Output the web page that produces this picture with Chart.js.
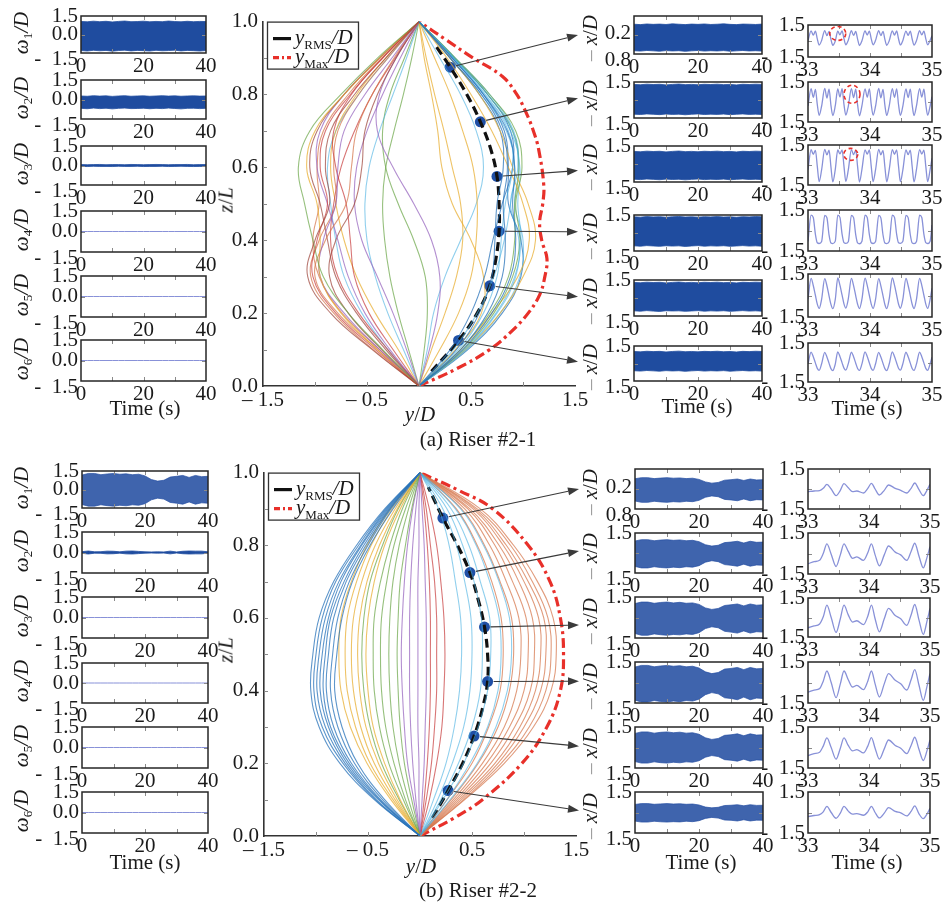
<!DOCTYPE html>
<html>
<head>
<meta charset="utf-8">
<script src="https://cdn.jsdelivr.net/npm/chart.js@4.4.1/dist/chart.umd.min.js"></script>
<style>
  html,body{margin:0;padding:0;background:#fff;}
  #fig{position:relative;width:943px;height:903px;overflow:hidden;background:#fff;}
  #fig canvas{position:absolute;}
  .t{position:absolute;font-family:"Liberation Serif","Times New Roman",serif;font-size:21px;color:#1a1a1a;white-space:nowrap;line-height:1;}
  .c{transform:translate(-50%,-50%);}
  .r{transform:translate(-50%,-50%) rotate(-90deg);}
  .t sub{font-size:13px;font-style:normal;vertical-align:-4px;}
  .g{color:#999;}
</style>
</head>
<body>
<div id="fig"></div>
<script>
// ---------------- data ----------------
// normalised height levels along the riser
const zLev = [0, 0.1, 0.2, 0.3, 0.4, 0.5, 0.6, 0.7, 0.8, 0.9, 1.0];

// Riser #2-1: instantaneous cross-flow shapes y/D along z/L
const shapesA = [
  [0,0.42,0.70,0.88,0.93,0.90,0.92,0.85,0.62,0.32,0],
  [0,-0.45,-0.85,-1.07,-1.00,-0.86,-0.90,-0.85,-0.62,-0.32,0],
  [0,0.40,0.66,0.80,0.83,0.81,0.85,0.80,0.60,0.30,0],
  [0,-0.42,-0.80,-1.02,-0.98,-0.88,-0.95,-0.90,-0.66,-0.35,0],
  [0,0.45,0.75,0.93,0.96,0.88,0.95,0.90,0.66,0.34,0],
  [0,-0.35,-0.68,-0.92,-1.02,-1.10,-1.16,-1.05,-0.75,-0.40,0],
  [0,0.38,0.62,0.75,0.79,0.83,0.90,0.86,0.63,0.33,0],
  [0,-0.40,-0.75,-0.95,-0.95,-0.98,-1.08,-1.00,-0.72,-0.38,0],
  [0,0.43,0.72,0.90,0.97,0.93,0.99,0.93,0.68,0.35,0],
  [0,-0.38,-0.72,-0.95,-0.92,-0.80,-0.78,-0.72,-0.52,-0.26,0],
  [0,0.45,0.78,1.00,1.12,1.05,0.90,0.78,0.58,0.30,0],
  [0,-0.40,-0.78,-1.00,-0.90,-0.70,-0.65,-0.60,-0.45,-0.24,0],
  [0,0.40,0.70,0.95,1.06,1.00,0.86,0.70,0.50,0.27,0],
  [0,-0.32,-0.60,-0.80,-0.88,-0.95,-1.05,-0.98,-0.72,-0.38,0],
  [0,0.36,0.58,0.70,0.73,0.75,0.81,0.78,0.58,0.30,0],
  [0,-0.28,-0.52,-0.68,-0.78,-0.88,-0.98,-0.95,-0.72,-0.38,0],
  [0,0.44,0.74,0.92,0.98,0.95,0.97,0.88,0.64,0.33,0],
  [0,-0.25,-0.48,-0.62,-0.66,-0.70,-0.80,-0.82,-0.65,-0.35,0],
  [0,0.40,0.68,0.86,0.92,0.92,0.96,0.90,0.66,0.34,0],
  [0,-0.36,-0.68,-0.86,-0.80,-0.62,-0.55,-0.52,-0.40,-0.22,0],
  [0,0.30,0.50,0.63,0.71,0.80,0.90,0.88,0.66,0.34,0],
  [0,-0.44,-0.82,-1.04,-0.96,-0.80,-0.82,-0.78,-0.58,-0.30,0],
  [0,0.33,0.56,0.72,0.82,0.88,0.92,0.84,0.60,0.30,0],
  [0,-0.12,-0.25,-0.40,-0.55,-0.62,-0.60,-0.50,-0.35,-0.18,0],
  [0,0.46,0.78,0.97,1.00,0.92,0.96,0.91,0.68,0.35,0],
  [0,0.10,0.18,0.20,0.12,-0.05,-0.25,-0.40,-0.38,-0.22,0],
  [0,0.47,0.80,0.98,0.98,0.86,0.86,0.82,0.62,0.32,0],
  [0,-0.30,-0.58,-0.78,-0.85,-0.82,-0.75,-0.62,-0.45,-0.23,0],
  [0,0.20,0.38,0.50,0.55,0.56,0.52,0.42,0.30,0.15,0],
  [0,-0.20,-0.42,-0.60,-0.72,-0.80,-0.85,-0.80,-0.60,-0.32,0],
  [0,0.35,0.60,0.62,0.50,0.32,0.22,0.18,0.12,0.05,0],
  [0,-0.38,-0.74,-0.96,-1.02,-0.96,-0.98,-0.92,-0.68,-0.36,0],
  [0,0.12,0.25,0.36,0.42,0.40,0.32,0.24,0.15,0.07,0],
  [0,-0.30,-0.55,-0.72,-0.80,-0.85,-0.88,-0.80,-0.58,-0.30,0],
  [0,0.08,0.14,0.25,0.40,0.55,0.62,0.55,0.40,0.20,0],
  [0,-0.15,-0.30,-0.42,-0.50,-0.52,-0.48,-0.38,-0.25,-0.12,0],
  [0,-0.10,-0.20,-0.28,-0.33,-0.35,-0.32,-0.24,-0.15,-0.07,0],
  [0,0.05,0.08,0.06,-0.05,-0.20,-0.32,-0.35,-0.28,-0.14,0]
];
const shapeKindA = ['blue','brown','blue','red','sky','green','sky','gold','green','purple',
  'gold','salmon','gold','brown','blue','purple','sky','red','green','brown',
  'blue','salmon','sky','purple','sky','purple','blue','red','gold','gold',
  'gold','salmon','gold','sky','sky','sky','green','green'];

// Riser #2-1: RMS and maximum envelopes, monitoring points
const rmsZA = [0.04,0.125,0.2,0.275,0.35,0.425,0.5,0.575,0.65,0.725,0.8,0.875,0.93];
const rmsYA = [0.12,0.38,0.56,0.68,0.74,0.77,0.77,0.75,0.69,0.59,0.46,0.30,0.17];
const maxZA = [0,0.05,0.1,0.15,0.2,0.25,0.3,0.35,0.4,0.45,0.5,0.55,0.65,0.7,0.75,0.8,0.85,0.9,0.95,1];
const maxYA = [0,0.38,0.68,0.89,1.05,1.16,1.21,1.23,1.18,1.16,1.19,1.20,1.15,1.10,1.03,0.94,0.80,0.52,0.26,0];
const dotZ = [0.875,0.725,0.575,0.425,0.275,0.125];
const dotYA = [0.30,0.59,0.75,0.77,0.68,0.38];

// Riser #2-2: instantaneous shapes
const shapesB = [
  [0,-0.44,-0.77,-0.97,-1.05,-1.03,-0.97,-0.83,-0.61,-0.34,0],
  [0,-0.43,-0.74,-0.94,-1.02,-1.00,-0.94,-0.81,-0.59,-0.33,0],
  [0,-0.42,-0.72,-0.91,-0.99,-0.97,-0.91,-0.78,-0.57,-0.32,0],
  [0,-0.40,-0.70,-0.88,-0.96,-0.94,-0.88,-0.76,-0.56,-0.31,0],
  [0,-0.39,-0.68,-0.86,-0.93,-0.91,-0.86,-0.73,-0.54,-0.30,0],
  [0,-0.38,-0.66,-0.83,-0.90,-0.88,-0.83,-0.71,-0.52,-0.29,0],
  [0,-0.36,-0.63,-0.79,-0.86,-0.84,-0.79,-0.68,-0.50,-0.28,0],
  [0,-0.34,-0.60,-0.75,-0.82,-0.80,-0.75,-0.65,-0.48,-0.26,0],
  [0,-0.28,-0.51,-0.67,-0.76,-0.78,-0.76,-0.66,-0.51,-0.29,0],
  [0,-0.26,-0.48,-0.62,-0.70,-0.72,-0.70,-0.61,-0.47,-0.27,0],
  [0,-0.24,-0.44,-0.57,-0.64,-0.66,-0.64,-0.56,-0.43,-0.24,0],
  [0,-0.22,-0.40,-0.52,-0.58,-0.60,-0.58,-0.51,-0.39,-0.22,0],
  [0,-0.19,-0.34,-0.45,-0.50,-0.52,-0.50,-0.44,-0.34,-0.19,0],
  [0,-0.20,-0.37,-0.48,-0.54,-0.56,-0.54,-0.48,-0.36,-0.21,0],
  [0,-0.16,-0.30,-0.39,-0.44,-0.45,-0.44,-0.38,-0.29,-0.17,0],
  [0,-0.14,-0.25,-0.33,-0.37,-0.38,-0.37,-0.32,-0.25,-0.14,0],
  [0,-0.11,-0.20,-0.26,-0.29,-0.30,-0.29,-0.26,-0.20,-0.11,0],
  [0,-0.08,-0.15,-0.19,-0.21,-0.22,-0.21,-0.19,-0.14,-0.08,0],
  [0,-0.06,-0.12,-0.15,-0.17,-0.18,-0.17,-0.15,-0.12,-0.07,0],
  [0,-0.04,-0.07,-0.09,-0.10,-0.10,-0.10,-0.09,-0.07,-0.04,0],
  [0,-0.01,-0.01,-0.02,-0.02,-0.02,-0.02,-0.02,-0.01,-0.01,0],
  [0,0.02,0.04,0.05,0.06,0.06,0.06,0.05,0.04,0.02,0],
  [0,0.04,0.07,0.09,0.10,0.10,0.10,0.09,0.07,0.04,0],
  [0,0.06,0.11,0.14,0.16,0.16,0.16,0.14,0.10,0.06,0],
  [0,0.09,0.16,0.21,0.23,0.24,0.23,0.20,0.16,0.09,0],
  [0,0.13,0.25,0.33,0.38,0.40,0.39,0.34,0.28,0.18,0],
  [0,0.17,0.31,0.42,0.48,0.50,0.49,0.43,0.35,0.22,0],
  [0,0.20,0.37,0.50,0.58,0.60,0.59,0.52,0.41,0.26,0],
  [0,0.22,0.42,0.56,0.65,0.68,0.67,0.58,0.47,0.30,0],
  [0,0.26,0.48,0.65,0.75,0.78,0.76,0.67,0.54,0.34,0],
  [0,0.29,0.55,0.73,0.84,0.88,0.86,0.76,0.61,0.39,0],
  [0,0.26,0.50,0.66,0.77,0.80,0.78,0.69,0.55,0.35,0],
  [0,0.30,0.56,0.75,0.86,0.90,0.88,0.77,0.62,0.40,0],
  [0,0.32,0.60,0.81,0.93,0.97,0.95,0.83,0.67,0.43,0],
  [0,0.34,0.64,0.86,1.00,1.04,1.02,0.89,0.72,0.46,0],
  [0,0.36,0.68,0.91,1.06,1.10,1.08,0.95,0.76,0.48,0],
  [0,0.38,0.72,0.96,1.11,1.16,1.14,1.00,0.80,0.51,0],
  [0,0.40,0.75,1.00,1.16,1.21,1.19,1.04,0.83,0.53,0],
  [0,0.42,0.78,1.05,1.21,1.26,1.23,1.08,0.87,0.55,0],
  [0,0.43,0.81,1.09,1.26,1.31,1.28,1.13,0.90,0.58,0]
];
const shapeKindB = ['blue','blue','blue','blue','blue','blue','blue','blue',
  'gold','gold','gold','gold','gold','green','green','green','green','green',
  'purple','purple','purple','purple','red','red','red',
  'sky','sky','sky','sky','sky','sky',
  'salmon','salmon','salmon','salmon','salmon','salmon','salmon','salmon','salmon'];

const rmsZB = [0.05,0.125,0.2,0.275,0.35,0.425,0.5,0.575,0.65,0.725,0.8,0.875,0.96];
const rmsYB = [0.12,0.27,0.41,0.52,0.60,0.65,0.65,0.62,0.56,0.48,0.36,0.22,0.08];
const maxZB = [0,0.05,0.1,0.2,0.3,0.4,0.5,0.6,0.7,0.8,0.9,0.95,1];
const maxYB = [0,0.33,0.60,0.98,1.22,1.35,1.38,1.35,1.25,1.04,0.70,0.38,0];
const dotYB = [0.22,0.48,0.62,0.65,0.52,0.27];

// 0-40 s records: band envelopes (upper / lower) every 2 s
const tRec = [0,2,4,6,8,10,12,14,16,18,20,22,24,26,28,30,32,34,36,38,40];
const flat = [0,0,0,0,0,0,0,0,0,0,0,0,0,0,0,0,0,0,0,0,0];

const wA1up = [1.06,1.03,1.08,1.04,1.07,1.02,1.06,1.09,1.04,1.05,1.08,1.03,1.06,1.04,1.09,1.05,1.03,1.07,1.04,1.06,1.05];
const wA1lo = [-1.30,-1.34,-1.28,-1.32,-1.29,-1.35,-1.30,-1.27,-1.33,-1.29,-1.31,-1.34,-1.28,-1.32,-1.30,-1.27,-1.33,-1.29,-1.31,-1.34,-1.30];
const wA2up = [0.27,0.25,0.29,0.26,0.28,0.24,0.27,0.29,0.25,0.27,0.28,0.25,0.27,0.29,0.26,0.28,0.25,0.27,0.28,0.26,0.27];
const wA2lo = [-0.68,-0.71,-0.66,-0.70,-0.67,-0.72,-0.68,-0.66,-0.70,-0.69,-0.67,-0.71,-0.68,-0.70,-0.66,-0.69,-0.72,-0.68,-0.67,-0.70,-0.68];
const wA3up = [0.07,0.06,0.07,0.08,0.06,0.07,0.07,0.06,0.08,0.07,0.06,0.07,0.08,0.07,0.06,0.07,0.07,0.08,0.06,0.07,0.07];
const wA3lo = [-0.07,-0.08,-0.06,-0.07,-0.07,-0.08,-0.06,-0.07,-0.07,-0.06,-0.08,-0.07,-0.07,-0.06,-0.08,-0.07,-0.06,-0.07,-0.08,-0.07,-0.07];

const xA1up = [0.85,0.82,0.87,0.84,0.86,0.83,0.88,0.85,0.82,0.86,0.84,0.87,0.83,0.85,0.88,0.84,0.82,0.86,0.85,0.83,0.86];
const xA1lo = [-1.24,-1.27,-1.22,-1.25,-1.28,-1.23,-1.26,-1.24,-1.29,-1.25,-1.22,-1.27,-1.24,-1.26,-1.23,-1.28,-1.25,-1.22,-1.26,-1.24,-1.27];
const xA2up = [1.30,1.27,1.32,1.29,1.31,1.26,1.30,1.33,1.28,1.30,1.27,1.31,1.29,1.32,1.28,1.30,1.26,1.31,1.29,1.32,1.30];
const xA2lo = [-1.18,-1.21,-1.16,-1.19,-1.22,-1.17,-1.20,-1.18,-1.23,-1.19,-1.16,-1.21,-1.18,-1.20,-1.17,-1.22,-1.19,-1.16,-1.20,-1.18,-1.21];
const xA3up = [1.05,1.02,1.07,1.04,1.06,1.01,1.05,1.08,1.03,1.05,1.02,1.06,1.04,1.07,1.03,1.05,1.01,1.06,1.04,1.07,1.05];
const xA3lo = [-1.27,-1.30,-1.25,-1.28,-1.31,-1.26,-1.29,-1.27,-1.32,-1.28,-1.25,-1.30,-1.27,-1.29,-1.26,-1.31,-1.28,-1.25,-1.29,-1.27,-1.30];
const xA4up = [1.35,1.32,1.37,1.34,1.36,1.31,1.35,1.38,1.33,1.35,1.32,1.36,1.34,1.37,1.33,1.35,1.31,1.36,1.34,1.37,1.35];
const xA4lo = [-1.07,-1.10,-1.05,-1.08,-1.11,-1.06,-1.09,-1.07,-1.12,-1.08,-1.05,-1.10,-1.07,-1.09,-1.06,-1.11,-1.08,-1.05,-1.09,-1.07,-1.10];
const xA5up = [1.30,1.27,1.32,1.29,1.31,1.26,1.30,1.33,1.28,1.30,1.27,1.31,1.29,1.32,1.28,1.30,1.26,1.31,1.29,1.32,1.30];
const xA5lo = [-1.07,-1.10,-1.05,-1.09,-1.12,-1.06,-1.08,-1.07,-1.11,-1.08,-1.05,-1.10,-1.07,-1.09,-1.06,-1.11,-1.08,-1.05,-1.09,-1.07,-1.10];
const xA6up = [1.03,1.00,1.05,1.02,1.04,0.99,1.03,1.06,1.01,1.03,1.00,1.04,1.02,1.05,1.01,1.03,0.99,1.04,1.02,1.05,1.03];
const xA6lo = [-0.62,-0.65,-0.60,-0.63,-0.66,-0.61,-0.64,-0.62,-0.67,-0.63,-0.60,-0.65,-0.62,-0.64,-0.61,-0.66,-0.63,-0.60,-0.64,-0.62,-0.65];

const wB1up = [1.17,1.30,1.30,1.20,1.26,1.30,1.24,1.27,1.20,1.24,1.10,0.81,0.68,0.75,1.01,1.07,1.14,0.98,1.14,1.04,1.07];
const wB1lo = [-1.22,-1.35,-1.35,-1.24,-1.31,-1.35,-1.28,-1.32,-1.24,-1.28,-1.15,-0.84,-0.70,-0.78,-1.05,-1.11,-1.19,-1.01,-1.19,-1.08,-1.11];
const wB2up = [0.06,0.11,0.05,0.06,0.10,0.09,0.05,0.10,0.11,0.08,0.05,0.04,0.05,0.04,0.10,0.04,0.09,0.11,0.10,0.10,0.05];
const wB2lo = [-0.06,-0.11,-0.05,-0.06,-0.10,-0.09,-0.05,-0.10,-0.11,-0.08,-0.05,-0.04,-0.05,-0.04,-0.10,-0.04,-0.09,-0.11,-0.10,-0.10,-0.05];

const xB1up = [0.77,0.85,0.85,0.78,0.82,0.85,0.81,0.83,0.78,0.81,0.72,0.53,0.44,0.49,0.66,0.70,0.75,0.64,0.75,0.68,0.70];
const xB1lo = [-0.90,-1.00,-1.00,-0.92,-0.97,-1.00,-0.95,-0.98,-0.92,-0.95,-0.85,-0.62,-0.52,-0.58,-0.78,-0.82,-0.88,-0.75,-0.88,-0.80,-0.82];
const xB2up = [0.90,1.00,1.00,0.92,0.97,1.00,0.95,0.98,0.92,0.95,0.85,0.62,0.52,0.58,0.78,0.82,0.88,0.75,0.88,0.80,0.82];
const xB2lo = [-1.01,-1.12,-1.12,-1.03,-1.09,-1.12,-1.06,-1.10,-1.03,-1.06,-0.95,-0.69,-0.58,-0.65,-0.87,-0.92,-0.99,-0.84,-0.99,-0.90,-0.92];
const xB3up = [1.02,1.13,1.13,1.04,1.10,1.13,1.07,1.11,1.04,1.07,0.96,0.70,0.59,0.66,0.88,0.93,0.99,0.85,0.99,0.90,0.93];
const xB3lo = [-1.17,-1.30,-1.30,-1.20,-1.26,-1.30,-1.24,-1.27,-1.20,-1.24,-1.11,-0.81,-0.68,-0.75,-1.01,-1.07,-1.14,-0.98,-1.14,-1.04,-1.07];
const xB4up = [1.13,1.25,1.25,1.15,1.21,1.25,1.19,1.23,1.15,1.19,1.06,0.78,0.65,0.73,0.98,1.03,1.10,0.94,1.10,1.00,1.03];
const xB4lo = [-1.29,-1.43,-1.43,-1.32,-1.39,-1.43,-1.36,-1.40,-1.32,-1.36,-1.22,-0.89,-0.74,-0.83,-1.12,-1.17,-1.26,-1.07,-1.26,-1.14,-1.17];
const xB5up = [1.03,1.14,1.14,1.05,1.11,1.14,1.08,1.12,1.05,1.08,0.97,0.71,0.59,0.66,0.89,0.93,1.00,0.86,1.00,0.91,0.93];
const xB5lo = [-1.03,-1.14,-1.14,-1.05,-1.11,-1.14,-1.08,-1.12,-1.05,-1.08,-0.97,-0.71,-0.59,-0.66,-0.89,-0.93,-1.00,-0.86,-1.00,-0.91,-0.93];
const xB6up = [0.59,0.65,0.65,0.60,0.63,0.65,0.62,0.64,0.60,0.62,0.55,0.40,0.34,0.38,0.51,0.53,0.57,0.49,0.57,0.52,0.53];
const xB6lo = [-0.63,-0.70,-0.70,-0.64,-0.68,-0.70,-0.67,-0.69,-0.64,-0.67,-0.60,-0.43,-0.36,-0.41,-0.55,-0.57,-0.62,-0.53,-0.62,-0.56,-0.57];

// 33-35 s close-up records
const tZoomA = [33.00,
  33.05,33.085,33.12,33.15,33.18,33.22,
  33.27,33.305,33.34,33.37,33.40,33.44,
  33.48,33.515,33.55,33.58,33.61,33.65,
  33.70,33.735,33.77,33.80,33.83,33.87,
  33.92,33.955,33.99,34.02,34.05,34.09,
  34.14,34.175,34.21,34.24,34.27,34.31,
  34.36,34.395,34.43,34.46,34.49,34.53,
  34.58,34.615,34.65,34.68,34.71,34.75,
  34.80,34.835,34.87,34.90,34.93,34.97,
  35.00];
const zA1 = [0.05,
  0.95,0.55,0.92,0.20,-0.38,0.05, 0.98,0.50,0.90,0.15,-0.40,0.00, 0.93,0.58,0.95,0.22,-0.35,0.08,
  0.96,0.52,0.90,0.18,-0.42,0.02, 0.94,0.56,0.93,0.20,-0.36,0.06, 0.97,0.50,0.91,0.16,-0.40,0.03,
  0.95,0.55,0.94,0.21,-0.37,0.05, 0.93,0.52,0.92,0.19,-0.39,0.04, 0.96,0.57,0.93,0.20,-0.36,0.06,
  0.50];
const zA2 = [-0.30,
  1.00,0.35,0.95,-0.20,-1.00,-0.30, 1.02,0.30,0.97,-0.25,-1.02,-0.28, 0.98,0.38,1.00,-0.18,-0.98,-0.32,
  1.01,0.33,0.96,-0.22,-1.03,-0.27, 0.99,0.36,0.98,-0.20,-0.99,-0.30, 1.02,0.31,0.95,-0.24,-1.01,-0.29,
  1.00,0.35,0.99,-0.19,-1.00,-0.31, 0.98,0.33,0.97,-0.21,-1.02,-0.28, 1.01,0.37,0.96,-0.20,-0.99,-0.30,
  0.40];
const zA3 = [-0.35,
  1.15,0.80,1.10,-0.10,-1.25,-0.35, 1.17,0.76,1.12,-0.14,-1.27,-0.33, 1.13,0.83,1.14,-0.08,-1.23,-0.37,
  1.16,0.78,1.11,-0.12,-1.28,-0.32, 1.14,0.81,1.13,-0.10,-1.24,-0.35, 1.17,0.77,1.10,-0.13,-1.26,-0.34,
  1.15,0.80,1.14,-0.09,-1.25,-0.36, 1.13,0.78,1.12,-0.11,-1.27,-0.33, 1.16,0.82,1.11,-0.10,-1.24,-0.35,
  0.50];
const zA4 = [-0.80,
  1.12,0.95,-0.30,-0.90,-0.95,-0.80, 1.10,0.93,-0.34,-0.92,-0.96,-0.78, 1.13,0.96,-0.28,-0.89,-0.94,-0.82,
  1.11,0.94,-0.32,-0.91,-0.97,-0.79, 1.12,0.95,-0.30,-0.90,-0.95,-0.80, 1.10,0.92,-0.33,-0.92,-0.96,-0.81,
  1.13,0.96,-0.29,-0.90,-0.94,-0.79, 1.11,0.94,-0.31,-0.91,-0.96,-0.80, 1.12,0.95,-0.30,-0.89,-0.95,-0.78,
  0.40];
const zA5 = [-0.25,
  1.20,0.70,0.00,-0.60,-0.90,-0.25, 1.18,0.68,-0.04,-0.62,-0.92,-0.27, 1.22,0.72,0.02,-0.58,-0.88,-0.23,
  1.19,0.69,-0.02,-0.61,-0.91,-0.26, 1.21,0.71,0.00,-0.60,-0.90,-0.25, 1.18,0.67,-0.03,-0.63,-0.92,-0.24,
  1.22,0.72,0.01,-0.59,-0.89,-0.26, 1.19,0.70,-0.01,-0.61,-0.91,-0.25, 1.20,0.71,0.00,-0.60,-0.90,-0.27,
  0.50];
const zA6 = [-0.10,
  0.80,0.45,-0.05,-0.45,-0.60,-0.10, 0.78,0.43,-0.07,-0.47,-0.62,-0.12, 0.82,0.47,-0.03,-0.43,-0.58,-0.09,
  0.79,0.44,-0.06,-0.46,-0.61,-0.11, 0.81,0.46,-0.04,-0.45,-0.60,-0.10, 0.78,0.42,-0.07,-0.47,-0.62,-0.12,
  0.82,0.46,-0.04,-0.44,-0.59,-0.10, 0.79,0.44,-0.05,-0.46,-0.61,-0.11, 0.80,0.45,-0.05,-0.45,-0.60,-0.10,
  0.40];

const tZoomB = [33.00,33.10,33.19,33.25,33.31,33.38,33.46,33.53,33.59,33.66,33.73,33.80,33.91,33.98,
  34.04,34.10,34.17,34.25,34.32,34.43,34.52,34.62,34.69,34.75,34.82,34.89,34.95,35.00];
const zB1 = [-0.20,-0.15,-0.12,0.05,0.35,0.00,-0.50,-0.10,0.40,0.10,-0.20,-0.15,-0.30,0.05,
  0.42,0.00,-0.45,-0.10,0.30,0.05,-0.10,-0.30,0.05,0.45,-0.05,-0.50,-0.10,0.35];
const zB2 = [-0.75,-0.60,-0.50,0.00,0.70,-0.05,-0.95,-0.10,0.70,0.15,-0.35,-0.25,-0.50,0.05,
  0.70,-0.10,-0.90,-0.10,0.55,0.10,-0.10,-0.50,0.15,0.75,-0.20,-1.05,-0.30,0.50];
const zB3 = [-0.80,-0.65,-0.50,0.05,0.95,0.00,-1.15,-0.10,0.95,0.20,-0.35,-0.25,-0.55,0.10,
  0.95,-0.10,-1.10,-0.10,0.70,0.15,-0.10,-0.60,0.20,1.00,-0.20,-1.30,-0.30,0.70];
const zB4 = [-0.70,-0.55,-0.45,0.10,0.84,0.00,-1.11,-0.10,0.84,0.20,-0.33,-0.21,-0.52,0.10,
  0.84,-0.10,-1.06,-0.10,0.65,0.16,-0.09,-0.55,0.20,0.94,-0.20,-1.30,-0.30,0.65];
const zB5 = [-0.60,-0.45,-0.35,0.10,0.70,0.00,-0.85,-0.05,0.70,0.15,-0.25,-0.15,-0.40,0.10,
  0.72,-0.05,-0.85,-0.10,0.55,0.15,-0.05,-0.45,0.15,0.75,-0.15,-0.95,-0.25,0.55];
const zB6 = [-0.30,-0.22,-0.15,0.05,0.45,0.00,-0.42,-0.05,0.45,0.10,-0.12,-0.08,-0.20,0.05,
  0.45,0.00,-0.40,-0.05,0.35,0.08,-0.02,-0.25,0.08,0.48,-0.10,-0.45,-0.12,0.30];

// axis tick values and labels
const recTicks = [0, 20, 40];
const zoomTicks = [33, 34, 35];
const yTickVals = [-1.5, 0, 1.5];
const zTicks = [0, 0.2, 0.4, 0.6, 0.8, 1.0];
const zTickLabels = ['0.0', '0.2', '0.4', '0.6', '0.8', '1.0'];
const yDTicks = [-1.5, -0.5, 0.5, 1.5];
const yDTickLabels = ['\u2013 1.5', '\u2013 0.5', '0.5', '1.5'];

// ---------------- drawing ----------------
const FONT = "'Liberation Serif', 'Times New Roman', serif";
Chart.defaults.font.family = FONT;
Chart.defaults.font.size = 21;
Chart.defaults.color = '#1a1a1a';
Chart.defaults.animation = false;
Chart.defaults.events = [];
Chart.defaults.plugins.legend.display = false;
Chart.defaults.plugins.tooltip.enabled = false;

const PAL = {
  blue: 'rgba(40,115,185,0.75)', sky: 'rgba(70,175,225,0.6)', green: 'rgba(105,165,70,0.7)',
  gold: 'rgba(232,172,45,0.72)', salmon: 'rgba(214,118,75,0.72)', brown: 'rgba(160,72,62,0.72)',
  purple: 'rgba(150,100,190,0.72)', red: 'rgba(200,60,60,0.7)'
};
const BAND = '#1f4c9f';
const BAND_B = 'rgba(36,78,162,0.88)';
const THIN = '#8891d8';

// frame, inward ticks and dashed highlight rings
Chart.register({
  id: 'frame',
  afterDraw(chart, args, o) {
    if (!o || !o.on) return;
    const {ctx, chartArea: a, scales} = chart;
    ctx.save();
    ctx.strokeStyle = '#8a8a8a'; ctx.lineWidth = 1;
    (o.xt || []).forEach(v => {
      const p = Math.round(scales.x.getPixelForValue(v)) + 0.5;
      ctx.beginPath(); ctx.moveTo(p, a.bottom); ctx.lineTo(p, a.bottom - 4);
      if (o.box) { ctx.moveTo(p, a.top); ctx.lineTo(p, a.top + 4); }
      ctx.stroke();
    });
    (o.yt || []).forEach(v => {
      const p = Math.round(scales.y.getPixelForValue(v)) + 0.5;
      ctx.beginPath(); ctx.moveTo(a.left, p); ctx.lineTo(a.left + 4, p);
      if (o.box) { ctx.moveTo(a.right, p); ctx.lineTo(a.right - 4, p); }
      ctx.stroke();
    });
    if (o.box) {
      ctx.strokeStyle = '#262626'; ctx.lineWidth = 1.5;
      ctx.strokeRect(a.left, a.top, a.right - a.left, a.bottom - a.top);
    }
    if (o.ring) {
      const cx = scales.x.getPixelForValue(o.ring[0]), cy = scales.y.getPixelForValue(o.ring[1]);
      ctx.strokeStyle = '#e8302a'; ctx.lineWidth = 1.6; ctx.setLineDash([4, 3]);
      ctx.beginPath(); ctx.ellipse(cx, cy, o.ring[2], o.ring[3], 0, 0, Math.PI * 2); ctx.stroke();
    }
    ctx.restore();
  }
});

// legend with subscripted entries
Chart.register({
  id: 'key',
  afterDraw(chart, args, o) {
    if (!o || !o.items) return;
    const {ctx, chartArea: a} = chart;
    const x0 = a.left + 4, y0 = a.top, w = 91, h = 47;
    ctx.save();
    ctx.fillStyle = '#fff'; ctx.fillRect(x0, y0, w, h);
    ctx.strokeStyle = '#333'; ctx.lineWidth = 1.3; ctx.strokeRect(x0 + 0.5, y0 + 0.5, w, h);
    o.items.forEach((it, i) => {
      const y = y0 + 17 + i * 19;
      ctx.strokeStyle = it.color; ctx.lineWidth = 3.2; ctx.setLineDash(it.dash);
      ctx.beginPath(); ctx.moveTo(x0 + 6, y); ctx.lineTo(x0 + 24, y); ctx.stroke();
      ctx.setLineDash([]);
      let x = x0 + 28;
      ctx.fillStyle = '#1a1a1a'; ctx.textBaseline = 'alphabetic'; ctx.textAlign = 'left';
      ctx.font = 'italic 21px ' + FONT; ctx.fillText('y', x, y + 5); x += ctx.measureText('y').width;
      ctx.font = '13px ' + FONT; ctx.fillText(it.sub, x, y + 10); x += ctx.measureText(it.sub).width;
      ctx.font = 'italic 21px ' + FONT; ctx.fillText('/D', x, y + 5);
    });
    ctx.restore();
  }
});

const fig = document.getElementById('fig');

function makeChart(box, pad, cfg) {
  const [x0, y0, x1, y1] = box;
  const W = x1 - x0 + pad.l + pad.r, H = y1 - y0 + pad.t + pad.b;
  const cv = document.createElement('canvas');
  cv.width = W; cv.height = H;
  cv.style.left = (x0 - pad.l) + 'px'; cv.style.top = (y0 - pad.t) + 'px';
  cv.style.width = W + 'px'; cv.style.height = H + 'px';
  fig.appendChild(cv);
  cfg.options.responsive = false;
  cfg.options.devicePixelRatio = 1;
  cfg.options.layout = {padding: {left: 0, top: pad.t, right: pad.r, bottom: 0}};
  cfg.options.scales.x.afterFit = s => { s.height = pad.b; };
  cfg.options.scales.y.afterFit = s => { s.width = pad.l; };
  return new Chart(cv, cfg);
}

function pts(xs, ys) { return xs.map((x, i) => ({x: x, y: ys[i]})); }

function bandSets(up, lo, color) {
  return [
    {data: pts(tRec, up), borderColor: color, borderWidth: 0.8, pointRadius: 0, fill: false},
    {data: pts(tRec, lo), borderColor: color, borderWidth: 0.8, pointRadius: 0, fill: '-1', backgroundColor: color}
  ];
}
function thinSet(vals, color, width) {
  return [{data: pts(tRec, vals), borderColor: color, borderWidth: width, pointRadius: 0, fill: false}];
}
function waveSet(ts, vs) {
  return [{data: pts(ts, vs), borderColor: THIN, borderWidth: 1.3, pointRadius: 0, fill: false,
           cubicInterpolationMode: 'monotone'}];
}

const PAD = {l: 66, t: 12, r: 16, b: 26};

function small(box, xr, xt, minor, datasets, yLabels, yVals, ring) {
  return makeChart(box, PAD, {
    type: 'line',
    data: {datasets: datasets},
    options: {
      scales: {
        x: {type: 'linear', min: xr[0], max: xr[1],
            afterBuildTicks: s => { s.ticks = xt.map(v => ({value: v})); },
            ticks: {padding: 1, maxRotation: 0, autoSkip: false, callback: v => String(v)},
            grid: {display: false, drawTicks: false}, border: {display: false}},
        y: {type: 'linear', min: -1.5, max: 1.5,
            afterBuildTicks: s => { s.ticks = yVals.map(v => ({value: v})); },
            ticks: {padding: 3, autoSkip: false, font: {size: 21, lineHeight: 0.65},
                    callback: (v, i) => yLabels[i]},
            grid: {display: false, drawTicks: false}, border: {display: false}}
      },
      plugins: {frame: {on: true, box: true, xt: minor, yt: [0], ring: ring}}
    }
  });
}

function center(box, shapes, kinds, rz, ry, mz, my, dy) {
  const ds = shapes.map((ys, i) => ({
    data: pts(ys, zLev), borderColor: PAL[kinds[i]], borderWidth: 1.1, pointRadius: 0, tension: 0.4, fill: false
  }));
  ds.push({data: pts(ry, rz), borderColor: '#111', borderWidth: 3.2, borderDash: [9, 5], pointRadius: 0, tension: 0.4, fill: false});
  ds.push({data: pts(my, mz), borderColor: '#e8302a', borderWidth: 3.2, borderDash: [10, 4, 3, 4], pointRadius: 0, tension: 0.4, fill: false});
  ds.push({data: pts(dy, dotZ), showLine: false, pointRadius: 5.5, pointBackgroundColor: '#1f4fa6', pointBorderWidth: 0});
  return makeChart(box, {l: 66, t: 12, r: 16, b: 28}, {
    type: 'line',
    data: {datasets: ds},
    options: {
      scales: {
        x: {type: 'linear', min: -1.5, max: 1.5,
            afterBuildTicks: s => { s.ticks = yDTicks.map(v => ({value: v})); },
            ticks: {padding: 2, maxRotation: 0, autoSkip: false, callback: (v, i) => yDTickLabels[i]},
            grid: {display: false, drawTicks: false}, border: {display: true, color: '#333', width: 1.6}},
        y: {type: 'linear', min: 0, max: 1,
            afterBuildTicks: s => { s.ticks = zTicks.map(v => ({value: v})); },
            ticks: {padding: 5, autoSkip: false, callback: (v, i) => zTickLabels[i]},
            grid: {display: false, drawTicks: false}, border: {display: true, color: '#333', width: 1.6}}
      },
      plugins: {
        frame: {on: true, box: false, xt: [-1, -0.5, 0, 0.5, 1], yt: [0.1, 0.2, 0.3, 0.4, 0.5, 0.6, 0.7, 0.8, 0.9]},
        key: {items: [{color: '#111', dash: [], sub: 'RMS'}, {color: '#e8302a', dash: [6, 3, 2, 3], sub: 'Max'}]}
      }
    }
  });
}

// ---------- panel geometry ----------
const GEO = {
  a: {wX: [81, 206], wT: [16, 80, 146, 211, 276, 340], wB: [53, 119, 185, 252, 317, 381],
      xX: [634, 762], xT: [16, 82, 146, 215, 280, 346], xB: [54, 118, 182, 251, 316, 381],
      zX: [808, 932], zT: [25, 82, 145, 210, 274, 343], zB: [57, 122, 185, 251, 317, 382],
      c: [263, 16, 575, 386]},
  b: {wX: [82, 208], wT: [471, 532, 597, 663, 727, 792], wB: [508, 573, 638, 703, 768, 833],
      xX: [635, 763], xT: [469, 533, 597, 662, 727, 792], xB: [509, 573, 638, 703, 768, 833],
      zX: [808, 930], zT: [469, 533, 598, 662, 727, 792], zB: [509, 574, 637, 703, 768, 833],
      c: [264, 467, 576, 836]}
};

const wLabels = [['', '-  1.5'], '0.0', '1.5'];
const xLabels1 = [['', '0.8'], '0.2'];
const xVals1 = [-1.5, 0.15];
const xLabels = [['', '1.5'], '1.5'];
const xVals = [-1.5, 1.5];
const zLabels = ['-  1.5', '1.5'];

function buildRow(key, wSets, xSets, zSets, rings, shapes, kinds, rz, ry, mz, my, dy) {
  const g = GEO[key];
  for (let i = 0; i < 6; i++) {
    small([g.wX[0], g.wT[i], g.wX[1], g.wB[i]], [0, 40], recTicks, [10, 20, 30], wSets[i], wLabels, yTickVals);
  }
  const right = [];
  for (let i = 0; i < 6; i++) {
    right.push(small([g.xX[0], g.xT[i], g.xX[1], g.xB[i]], [0, 40], recTicks, [10, 20, 30], xSets[i],
      i === 0 ? xLabels1 : xLabels, i === 0 ? xVals1 : xVals));
  }
  for (let i = 0; i < 6; i++) {
    small([g.zX[0], g.zT[i], g.zX[1], g.zB[i]], [33, 35], zoomTicks, [33.5, 34, 34.5], zSets[i], zLabels, xVals, rings[i]);
  }
  const c = center(g.c, shapes, kinds, rz, ry, mz, my, dy);
  return {c: c, right: right, dy: dy};
}

const rowA = buildRow('a',
  [bandSets(wA1up, wA1lo, BAND), bandSets(wA2up, wA2lo, BAND), bandSets(wA3up, wA3lo, BAND),
   thinSet(flat, THIN, 1), thinSet(flat, THIN, 1), thinSet(flat, THIN, 1)],
  [bandSets(xA1up, xA1lo, BAND), bandSets(xA2up, xA2lo, BAND), bandSets(xA3up, xA3lo, BAND),
   bandSets(xA4up, xA4lo, BAND), bandSets(xA5up, xA5lo, BAND), bandSets(xA6up, xA6lo, BAND)],
  [waveSet(tZoomA, zA1), waveSet(tZoomA, zA2), waveSet(tZoomA, zA3),
   waveSet(tZoomA, zA4), waveSet(tZoomA, zA5), waveSet(tZoomA, zA6)],
  [[33.48, 0.71, 8, 7], [33.71, 0.58, 8, 9], [33.69, 0.8, 7, 6], null, null, null],
  shapesA, shapeKindA, rmsZA, rmsYA, maxZA, maxYA, dotYA);

const rowB = buildRow('b',
  [bandSets(wB1up, wB1lo, BAND_B), bandSets(wB2up, wB2lo, BAND), thinSet(flat, THIN, 1),
   thinSet(flat, THIN, 1), thinSet(flat, THIN, 1), thinSet(flat, THIN, 1)],
  [bandSets(xB1up, xB1lo, BAND_B), bandSets(xB2up, xB2lo, BAND_B),
   bandSets(xB3up, xB3lo, BAND_B), bandSets(xB4up, xB4lo, BAND_B),
   bandSets(xB5up, xB5lo, BAND_B), bandSets(xB6up, xB6lo, BAND_B)],
  [waveSet(tZoomB, zB1), waveSet(tZoomB, zB2), waveSet(tZoomB, zB3),
   waveSet(tZoomB, zB4), waveSet(tZoomB, zB5), waveSet(tZoomB, zB6)],
  [null, null, null, null, null, null],
  shapesB, shapeKindB, rmsZB, rmsYB, maxZB, maxYB, dotYB);

// ---------- arrows from monitoring points to their records ----------
const arrowAim = [0.0, 0.15, -0.55, 0.1, 0.1, 0.15];
const ov = document.createElement('canvas');
ov.width = 943; ov.height = 903;
ov.style.left = '0px'; ov.style.top = '0px'; ov.style.width = '943px'; ov.style.height = '903px';
fig.appendChild(ov);
const octx = ov.getContext('2d');

function arrows(row) {
  const c = row.c, cl = c.canvas.offsetLeft, ct = c.canvas.offsetTop;
  row.dy.forEach((y, i) => {
    const sx = cl + c.scales.x.getPixelForValue(y);
    const sy = ct + c.scales.y.getPixelForValue(dotZ[i]);
    const r = row.right[i];
    const ex = cl + c.chartArea.right + 3;
    const ey = r.canvas.offsetTop + r.scales.y.getPixelForValue(arrowAim[i]);
    const dx = ex - sx, dyy = ey - sy, len = Math.hypot(dx, dyy);
    const ux = dx / len, uy = dyy / len;
    const hl = 11, hw = 4;
    octx.strokeStyle = '#3a3a3a'; octx.fillStyle = '#3a3a3a'; octx.lineWidth = 1.1;
    octx.beginPath();
    octx.moveTo(sx + ux * 6, sy + uy * 6);
    octx.lineTo(ex - ux * hl, ey - uy * hl);
    octx.stroke();
    octx.beginPath();
    octx.moveTo(ex, ey);
    octx.lineTo(ex - ux * hl - uy * hw, ey - uy * hl + ux * hw);
    octx.lineTo(ex - ux * hl + uy * hw, ey - uy * hl - ux * hw);
    octx.closePath(); octx.fill();
  });
}
arrows(rowA);
arrows(rowB);

// ---------- text ----------
function txt(html, x, y, cls) {
  const d = document.createElement('div');
  d.className = 't ' + cls;
  d.style.left = x + 'px'; d.style.top = y + 'px';
  d.innerHTML = html;
  fig.appendChild(d);
}
['a', 'b'].forEach(k => {
  const g = GEO[k];
  for (let i = 0; i < 6; i++) {
    txt('<i>\u03c9</i><sub>' + (i + 1) + '</sub><i>/D</i>', 22, (g.wT[i] + g.wB[i]) / 2 - 2, 'r');
    txt('<span class="g">\u2013</span> <i>x</i>/<i>D</i>', 590, (g.xT[i] + g.xB[i]) / 2 + 3, 'r');
  }
});
txt('<i>z</i>/<i>L</i>', 226, 200, 'r');
txt('<i>z</i>/<i>L</i>', 226, 650, 'r');
txt('<i>y</i>/<i>D</i>', 420, 414, 'c');
txt('<i>y</i>/<i>D</i>', 421, 866, 'c');
[[145, 408], [697, 406], [867, 408], [145, 862], [701, 862], [867, 862]].forEach(p => txt('Time (s)', p[0], p[1], 'c'));
txt('(a) Riser #2-1', 478, 439, 'c');
txt('(b) Riser #2-2', 478, 890, 'c');
</script>
</body>
</html>
